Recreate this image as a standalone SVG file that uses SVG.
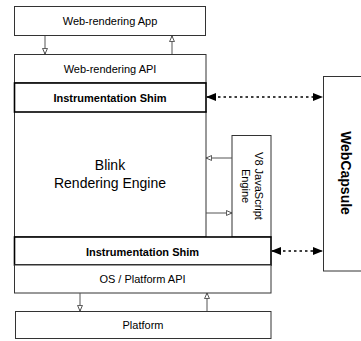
<svg xmlns="http://www.w3.org/2000/svg" width="361" height="341" viewBox="0 0 361 341">
<defs>
<style>
.box{fill:#fff;stroke:#333;stroke-width:1}
.shim{fill:#fff;stroke:#000;stroke-width:1.6}
.t{font-family:"Liberation Sans",Arial,sans-serif;font-size:11px;fill:#000;text-anchor:middle}
.b{font-weight:bold}
.conn{fill:none;stroke:#555;stroke-width:1}
.dash{fill:none;stroke:#000;stroke-width:1.4;stroke-dasharray:2.5,3}
</style>
<marker id="open" viewBox="0 0 10 10" refX="9" refY="5" markerWidth="7" markerHeight="7" orient="auto" markerUnits="userSpaceOnUse">
<path d="M1,1.5 L9,5 L1,8.5 Z" fill="#fff" stroke="#333" stroke-width="1.2"/>
</marker>
<marker id="fill" viewBox="0 0 10 10" refX="9" refY="5" markerWidth="10" markerHeight="10" orient="auto-start-reverse" markerUnits="userSpaceOnUse">
<path d="M0,1 L10,5 L0,9 Z" fill="#000"/>
</marker>
</defs>
<g id="app"><rect class="box" x="14.5" y="6.5" width="191" height="29"/><text class="t" x="110" y="25">Web-rendering App</text></g>
<g id="blink"><rect class="box" x="14.5" y="111.5" width="191.5" height="125.5"/><text class="t" style="font-size:14px" x="110" y="170">Blink</text><text class="t" style="font-size:14px" x="110" y="188">Rendering Engine</text></g>
<g id="api"><rect class="box" x="14.5" y="54.5" width="191.5" height="28.5"/><text class="t" x="110" y="73">Web-rendering API</text></g>
<g id="shim-top"><rect class="shim" x="14.5" y="83" width="191.5" height="29"/><text class="t b" x="110" y="101.5">Instrumentation Shim</text></g>
<g id="v8"><rect class="box" x="232" y="135.5" width="39" height="101.5"/><text class="t" transform="translate(251.5,186) rotate(90)"><tspan x="0" y="-3">V8 JavaScript</tspan><tspan x="0" y="10">Engine</tspan></text></g>
<g id="shim-bottom"><rect class="shim" x="14.5" y="237" width="256.5" height="28"/><text class="t b" x="142.5" y="255.5">Instrumentation Shim</text></g>
<g id="osapi"><rect class="box" x="14.5" y="265" width="256.5" height="28"/><text class="t" x="142.5" y="283">OS / Platform API</text></g>
<g id="platform"><rect class="box" x="15.5" y="311.5" width="255.5" height="27"/><text class="t" x="143" y="329">Platform</text></g>
<g id="webcapsule"><rect class="box" x="323.5" y="76.5" width="50" height="194.5"/><text class="t b" style="font-size:14px" transform="translate(341,173) rotate(90)">WebCapsule</text></g>
<g id="connectors">
<path class="conn" d="M45,36 V54" marker-end="url(#open)"/>
<path class="conn" d="M172,54 V36" marker-end="url(#open)"/>
<path class="conn" d="M80,293 V311" marker-end="url(#open)"/>
<path class="conn" d="M207,311 V293" marker-end="url(#open)"/>
<path class="conn" d="M232,158 H206" marker-end="url(#open)"/>
<path class="conn" d="M206,213 H232" marker-end="url(#open)"/>
<path class="dash" d="M207,97 H322" marker-start="url(#fill)" marker-end="url(#fill)"/>
<path class="dash" d="M272,251 H322" marker-start="url(#fill)" marker-end="url(#fill)"/>
</g>
</svg>
